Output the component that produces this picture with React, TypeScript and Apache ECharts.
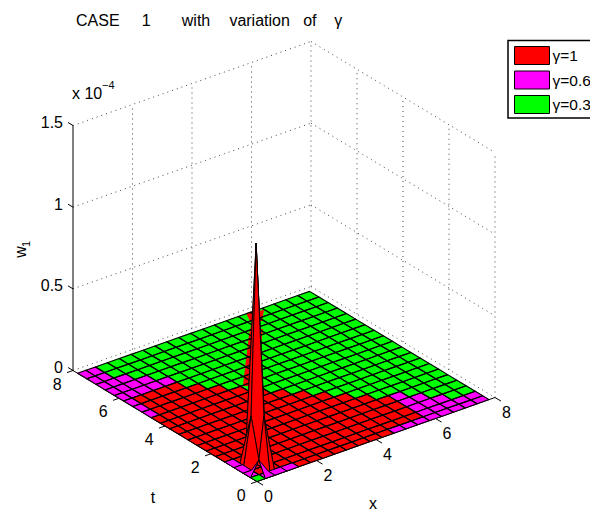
import React, { useEffect, useRef } from "react";
import * as echarts from "echarts";

// Mesh node positions along x and t
const nodes = [0, 0.28, 0.6, 1, 1.4, 1.8, 2.2, 2.6, 3, 3.4, 3.8, 4.2, 4.6, 5, 5.4, 5.8, 6.2, 6.6, 7, 7.4, 7.8];
// Node positions of the peak near the origin
const peakXs = [0, 0.28, 0.45, 0.8];
const peakTs = [0, 0.28, 0.62, 1.1];
// Surface visible in each mesh cell: row = t index (front to back), column = x index
const topSurface = [
  "GMMMRRRRRRRRMMMMMMMM",
  "MRRRRRRRRRRRRRRMMMMM",
  "MRRRRRRRRRRRRRRMMMGG",
  "MRRRRRRRRRRRRRRMMGGG",
  "RRRRRRRRRRRRRRRMGGGG",
  "RRRRRRRRRRRRRRGGGGGG",
  "RRRRRRRRRRRRRGGGGGGG",
  "RRRRRRRRRRRRGGGGGGGG",
  "RRRRRRRRRRRGGGGGGGGG",
  "RRRRRRRRRRGGGGGGGGGG",
  "RRRRRRRRRGGGGGGGGGGG",
  "RRRRRRRRGGGGGGGGGGGG",
  "MRRRRRRGGGGGGGGGGGGG",
  "MRRRRRGGGGGGGGGGGGGG",
  "MRRRRGGGGGGGGGGGGGGG",
  "MMMMMGGGGGGGGGGGGGGG",
  "MMMMGGGGGGGGGGGGGGGG",
  "MMMGGGGGGGGGGGGGGGGG",
  "MMGGGGGGGGGGGGGGGGGG",
  "MMGGGGGGGGGGGGGGGGGG",
];
// Slivers of the red surface showing through the green one behind the peak, as [x, t]
const redSliverA = [[3.06, 4.57], [4.98, 6.79], [5.57, 7.42], [5.66, 7.36], [3.34, 4.36]];
const redSliverB = [[5.69, 7.84], [6.18, 7.69], [5.75, 7.22], [5.49, 7.41]];
const redSliverC = [[5.3, 6.9], [5.49, 6.84], [4.88, 6.14], [4.78, 6.22]];
// Heights (units of 1e-4) at the mesh nodes near the origin: row = t index, column = x index
const redPeak = [
  [0, 0, 0, 0],
  [0, 0.09, 0.349, 0],
  [0, 0.33, 1.378, 0],
  [0, 0, 0, 0],
];
const magentaPeak = [
  [0, 0, 0, 0],
  [0, 0.09, 0, 0],
  [0, 0, 0, 0],
  [0, 0, 0, 0],
];
const redPeakCells = [[2, 2], [2, 1], [1, 2], [2, 0], [1, 1], [0, 2], [1, 0], [0, 1]];
const magentaFrontCells = [[3, 0], [0, 3], [2, 0], [0, 2], [1, 0], [0, 1]];
const greenFrontCells = [[0, 0]];

const xTicks = [0, 2, 4, 6, 8];
const tTicks = [0, 2, 4, 6, 8];
const zTicks = [0, 0.5, 1, 1.5];
const zTickLabels = ["0", "0.5", "1", "1.5"];
const seriesNames = ["γ=1", "γ=0.6", "γ=0.3"];
const seriesColors = ["#ff0000", "#ff00ff", "#00ff00"];

const FONT = '"Liberation Sans", Arial, sans-serif';

function project(x: number, t: number, z: number): number[] {
  return [
    257 + (x / 8) * 238 - (t / 8) * 184,
    481.5 - (x / 8) * 84 - (t / 8) * 111 - (z / 1.5) * 245,
  ];
}

function cellsOf(letter?: string): number[][] {
  const cells: number[][] = [];
  topSurface.forEach((row, j) => {
    row.split("").forEach((c, i) => {
      if (!letter || c === letter) cells.push([i, j]);
    });
  });
  return cells.sort((a, b) => b[0] + b[1] - (a[0] + a[1]));
}

function cellRenderer(
  fill: string,
  stroke: string,
  lineWidth: number,
  heights?: number[][],
  xs: number[] = nodes,
  ts: number[] = nodes
) {
  return (_p: any, api: any) => {
    const i = api.value(0);
    const j = api.value(1);
    const h = (a: number, b: number) => (heights && heights[b] && heights[b][a]) || 0;
    const corners = [
      [i, j],
      [i + 1, j],
      [i + 1, j + 1],
      [i, j + 1],
    ];
    const points = corners.map(([a, b]) => api.coord(project(xs[a], ts[b], h(a, b))));
    return {
      type: "polygon",
      shape: { points },
      style: { fill, stroke, lineWidth, lineJoin: "round" },
    };
  };
}

function sliverRenderer(_p: any, api: any) {
  const make = (pts: number[][]) => ({
    type: "polygon",
    shape: { points: pts.map(([x, t]) => api.coord(project(x, t, 0))) },
    style: { fill: seriesColors[0], stroke: "none" },
  });
  return { type: "group", children: [make(redSliverA), make(redSliverB), make(redSliverC)] };
}

function frameRenderer(_p: any, api: any) {
  const P = (x: number, t: number, z: number) => api.coord(project(x, t, z));
  const children: any[] = [];
  const dotted = (a: number[], b: number[]) =>
    children.push({
      type: "line",
      shape: { x1: a[0], y1: a[1], x2: b[0], y2: b[1] },
      style: { stroke: "#444", lineWidth: 1, lineDash: [1, 4] },
    });
  const solid = (a: number[], b: number[]) =>
    children.push({
      type: "line",
      shape: { x1: a[0], y1: a[1], x2: b[0], y2: b[1] },
      style: { stroke: "#000", lineWidth: 1 },
    });
  const label = (text: string, x: number, y: number, align = "center", size = 16) =>
    children.push({
      type: "text",
      style: { text, x, y, align, verticalAlign: "middle", fill: "#000", font: `${size}px ${FONT}` },
    });
  const top = zTicks[zTicks.length - 1];
  // walls
  zTicks.forEach((z) => {
    dotted(P(0, 8, z), P(8, 8, z));
    dotted(P(8, 8, z), P(8, 0, z));
  });
  xTicks.slice(1).forEach((x) => dotted(P(x, 8, 0), P(x, 8, top)));
  tTicks.slice(0, -1).forEach((t) => dotted(P(8, t, 0), P(8, t, top)));
  // axes lines
  solid(P(0, 8, 0), P(0, 8, top));
  solid(P(0, 0, 0), P(8, 0, 0));
  solid(P(0, 0, 0), P(0, 8, 0));
  // ticks and labels
  zTicks.forEach((z, k) => {
    const p = P(0, 8, z);
    solid(p, [p[0] - 5, p[1] - 3]);
    label(zTickLabels[k], p[0] - 10, p[1] - 3, "right");
  });
  xTicks.forEach((x) => {
    const p = P(x, 0, 0);
    solid(p, [p[0] + 6, p[1] + 3.6]);
    label(String(x), p[0] + 11.5, p[1] + 15);
  });
  tTicks.forEach((t) => {
    const p = P(0, t, 0);
    solid(p, [p[0] - 6, p[1] + 2.1]);
    label(String(t), p[0] - 15.7, p[1] + 13.5);
  });
  // axis names
  label("x", 373, 503);
  label("t", 153, 497);
  label("x 10", 72, 93, "left");
  label("−4", 102, 85, "left", 11);
  children.push({
    type: "text",
    x: 20,
    y: 252,
    rotation: Math.PI / 2,
    style: { text: "w", align: "center", verticalAlign: "middle", fill: "#000", font: `16px ${FONT}` },
  });
  children.push({
    type: "text",
    x: 26,
    y: 244,
    rotation: Math.PI / 2,
    style: { text: "1", align: "center", verticalAlign: "middle", fill: "#000", font: `11px ${FONT}` },
  });
  return { type: "group", children };
}

export default function App() {
  const ref = useRef<HTMLDivElement>(null);
  useEffect(() => {
    if (!ref.current) return;
    const chart = echarts.init(ref.current, null, { renderer: "svg" });
    const mk = (name: string, data: number[][], renderItem: any) => ({
      type: "custom",
      name,
      data,
      renderItem,
      coordinateSystem: "cartesian2d",
      clip: false,
      silent: true,
      encode: { x: 0, y: 1 },
    });
    chart.setOption({
      animation: false,
      backgroundColor: "#fff",
      title: {
        text: "CASE     1       with    \u200Avariation   of    γ",
        left: 76,
        top: 12,
        padding: 0,
        textStyle: { fontFamily: FONT, fontSize: 16, fontWeight: "normal", color: "#000" },
      },
      grid: { left: 0, top: 0, width: 590, height: 510 },
      xAxis: { type: "value", min: 0, max: 590, show: false },
      yAxis: { type: "value", min: 0, max: 510, inverse: true, show: false },
      legend: {
        orient: "vertical",
        left: 508,
        top: 40.5,
        padding: [5.5, 60, 4, 6],
        itemWidth: 35,
        itemHeight: 18,
        itemGap: 5.5,
        selectedMode: false,
        borderColor: "#000",
        borderWidth: 1.5,
        backgroundColor: "#fff",
        textStyle: { fontFamily: FONT, fontSize: 15.5, color: "#000", padding: [0, 0, 0, -2] },
        data: seriesNames.map((name, k) => ({
          name,
          icon: "rect",
          itemStyle: { color: seriesColors[k], borderColor: "#000", borderWidth: 1 },
        })),
      },
      series: [
        mk("frame", [[0, 0]], frameRenderer),
        mk(seriesNames[2], cellsOf("G"), cellRenderer(seriesColors[2], seriesColors[2], 0.5)),
        mk(seriesNames[1], cellsOf("M"), cellRenderer(seriesColors[1], seriesColors[1], 0.5)),
        mk(seriesNames[0], cellsOf("R"), cellRenderer(seriesColors[0], seriesColors[0], 0.5)),
        mk(seriesNames[0], [[0, 0]], sliverRenderer),
        mk("mesh", cellsOf(), cellRenderer("none", "#000", 1.1)),
        mk(seriesNames[0], redPeakCells, cellRenderer(seriesColors[0], "#000", 0.9, redPeak, peakXs, peakTs)),
        mk(seriesNames[1], magentaFrontCells, cellRenderer(seriesColors[1], "#000", 1, magentaPeak)),
        mk(seriesNames[2], greenFrontCells, cellRenderer(seriesColors[2], "#000", 1)),
      ],
    });
    return () => chart.dispose();
  }, []);
  return (
    <div
      ref={ref}
      style={{ position: "fixed", left: 0, top: 0, width: 590, height: 510, overflow: "hidden", background: "#fff" }}
    />
  );
}
